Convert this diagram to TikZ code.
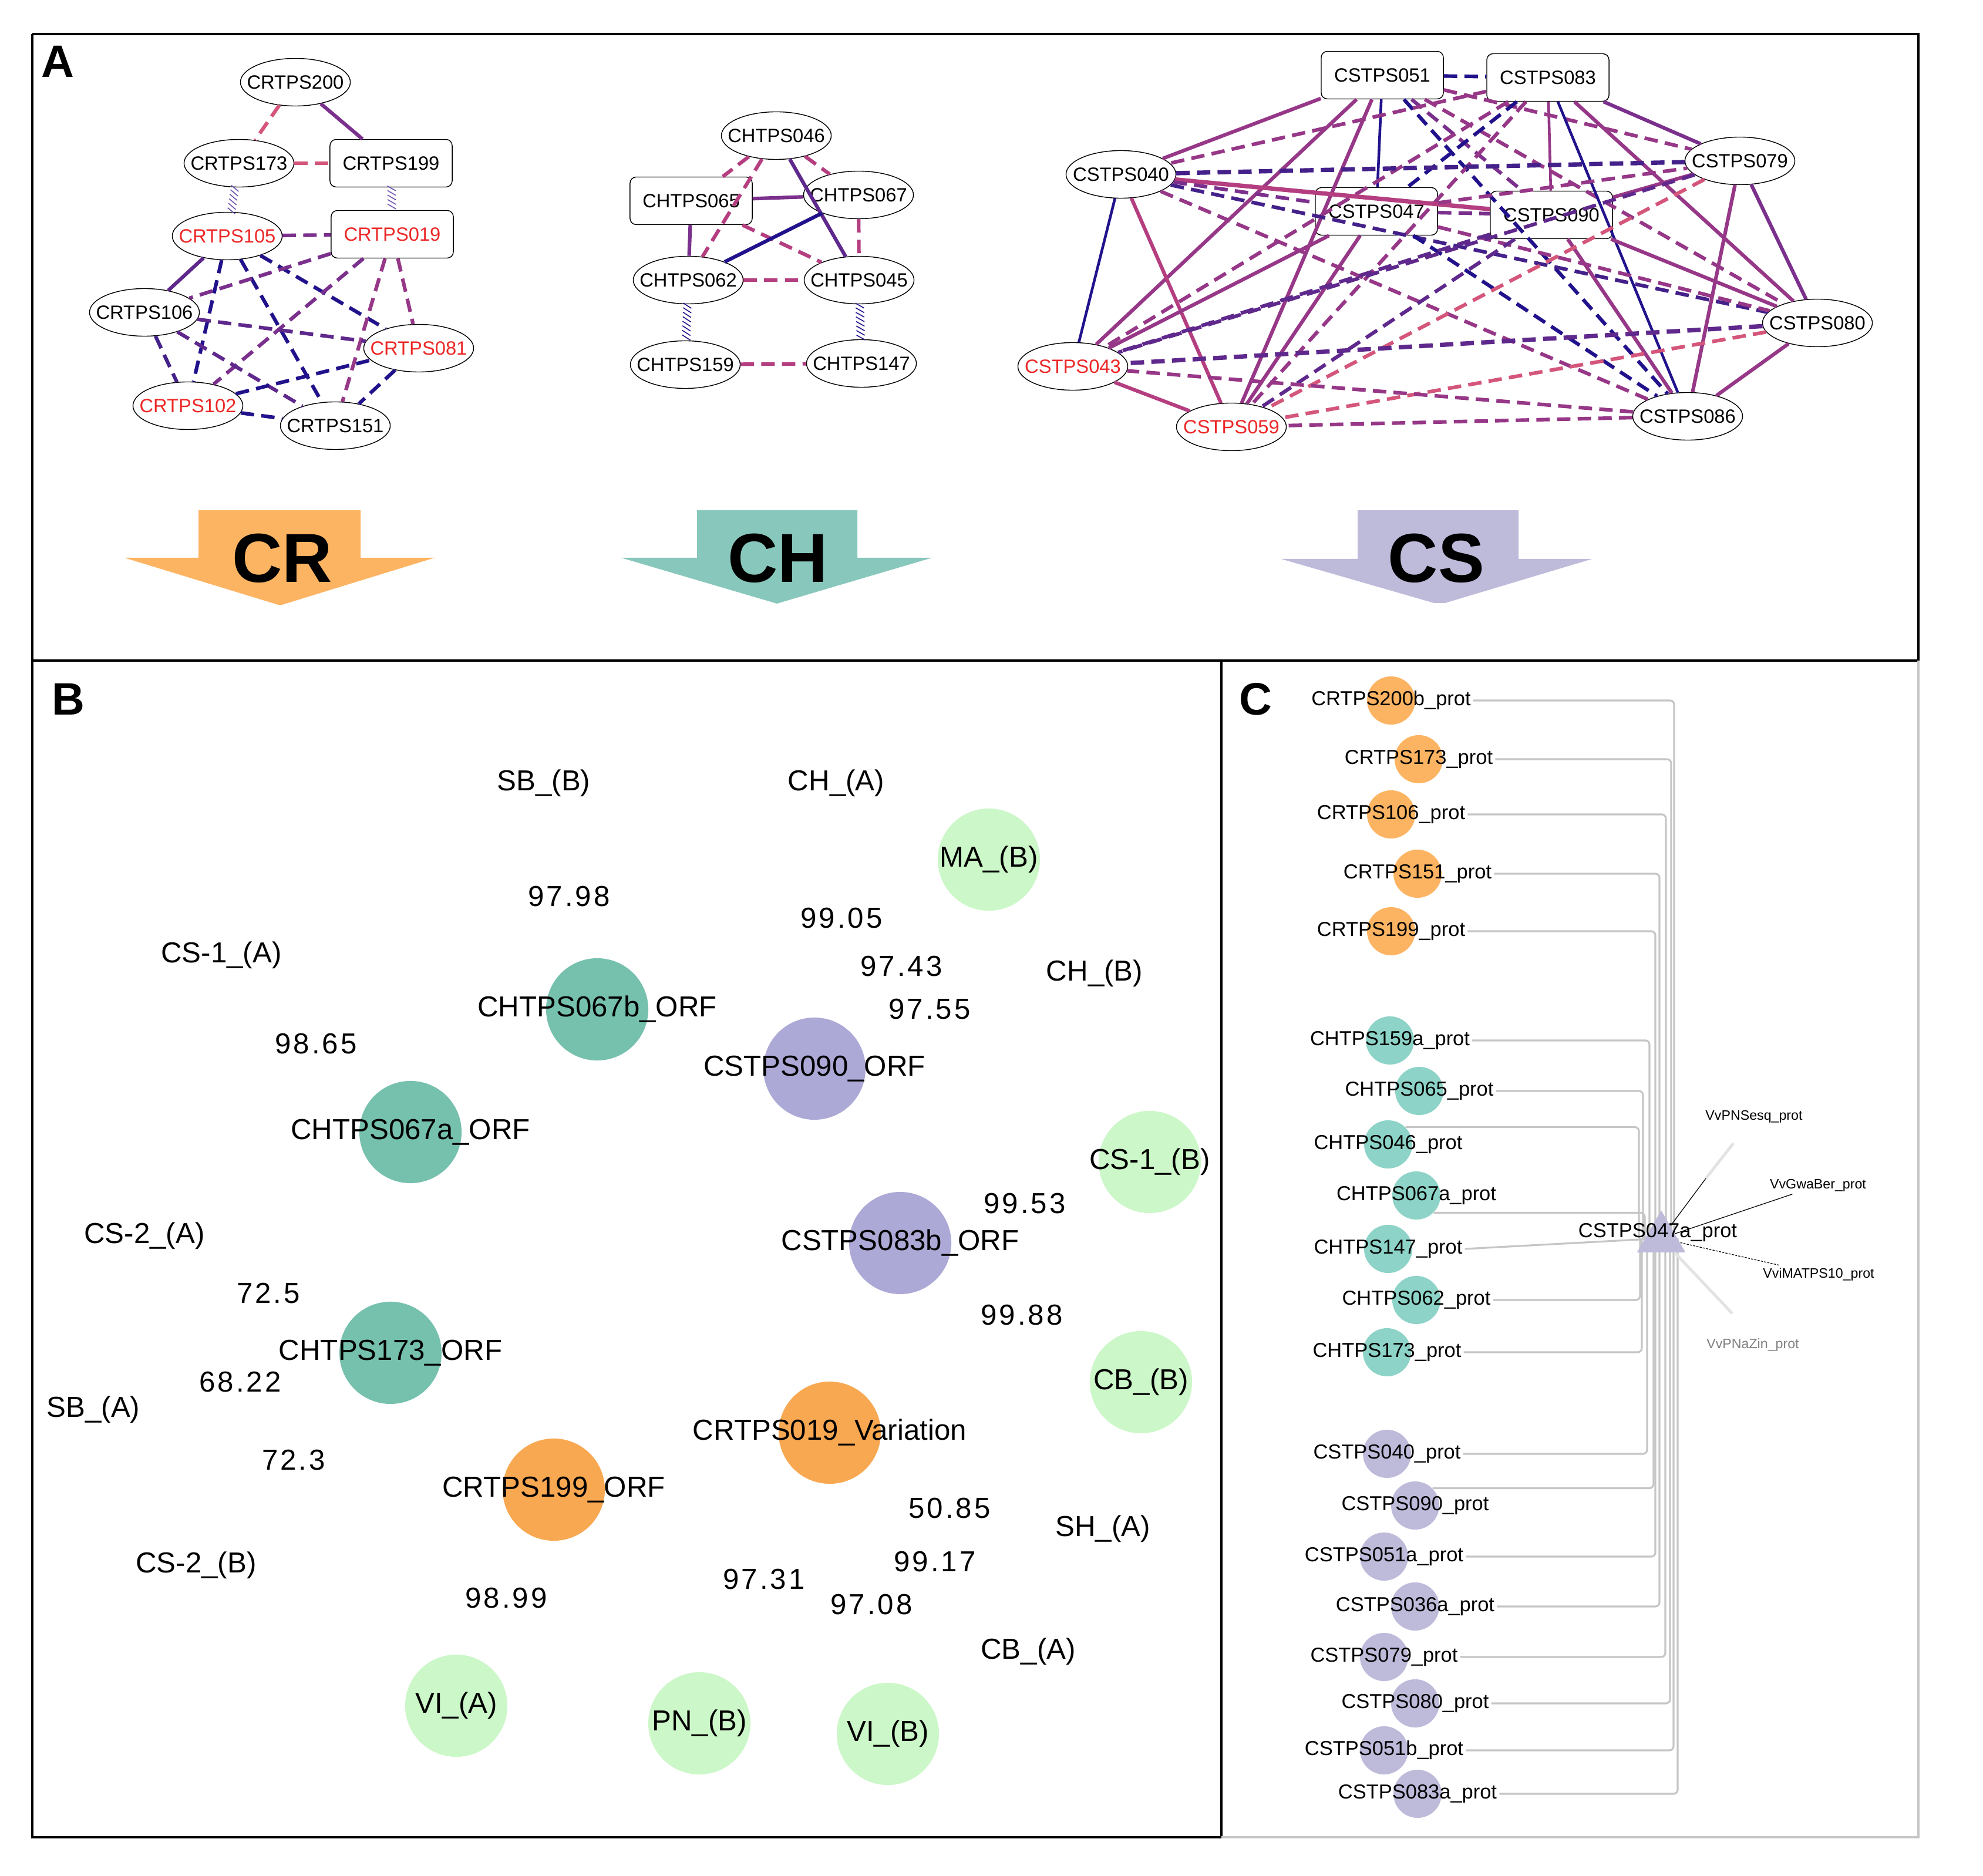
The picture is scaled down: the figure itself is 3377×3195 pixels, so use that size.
\documentclass[tikz,border=0pt]{standalone}
\usepackage{fontspec}
\setmainfont{Liberation Sans}
\newfontfamily\numfont[LetterSpace=8]{Liberation Sans}
\usetikzlibrary{positioning, shapes.geometric, decorations.markings, calc}

\definecolor{ecblue}{RGB}{33,18,140}
\definecolor{ecindigo}{RGB}{68,32,138}
\definecolor{ecpurple}{RGB}{95,40,140}
\definecolor{ecviolet}{RGB}{122,48,140}
\definecolor{ecmagenta}{RGB}{150,55,135}
\definecolor{ecrose}{RGB}{180,62,128}
\definecolor{ecpink}{RGB}{212,86,122}
\definecolor{eclav}{RGB}{110,85,175}
\definecolor{textred}{RGB}{236,40,40}
\definecolor{crorange}{RGB}{253,180,98}
\definecolor{charrow}{RGB}{136,199,188}
\definecolor{chteal}{RGB}{141,211,199}
\definecolor{cslav}{RGB}{190,186,218}
\definecolor{borange}{RGB}{249,168,82}
\definecolor{bteal}{RGB}{118,192,174}
\definecolor{blav}{RGB}{173,169,214}
\definecolor{bgreen}{RGB}{204,247,200}

\begin{document}
\begin{tikzpicture} [
    x=0.01cm, y=-0.01cm,
    netfont/.style={font=\fontsize{9.3}{11}\selectfont},
    ell/.style={ellipse, draw, thin, netfont, minimum width=1.87cm, minimum height=0.81cm, inner xsep=-8pt, inner ysep=0pt},
    box/.style={rectangle, rounded corners=3pt, draw, thin, netfont, minimum width=2.08cm, minimum height=0.81cm, inner sep=0pt},
    hot/.style={text=textred},
    sol/.style={draw=#1, line width=1.75pt},
    dsh/.style={draw=#1, line width=1.75pt, dash pattern=on 6.5pt off 3.5pt},
    hatchline/.style={decoration={markings, mark=between positions 0.04 and 0.96 step 2.2pt with {\draw[#1, line width=0.45pt] (-1.2pt,-2pt) -- (1.2pt,2pt);}}, decorate},
    frame/.style={line width=1.4pt},
    panel/.style={font=\fontsize{22}{24}\selectfont\bfseries, anchor=base west, inner sep=0pt},
    bigtext/.style={font=\fontsize{33.6}{36}\selectfont\bfseries},
    bcirc/.style={circle, minimum size=1.74cm, inner sep=0pt},
    btext/.style={font=\fontsize{14}{16}\selectfont},
    bnum/.style={font=\numfont\fontsize{14}{16}\selectfont},
    ccirc/.style={circle, minimum size=0.82cm, inner sep=0pt},
    ctext/.style={font=\fontsize{9.8}{11}\selectfont, inner sep=1pt},
    cbus/.style={draw=gray!45, line width=0.9pt, rounded corners=2pt},
    vvtext/.style={font=\fontsize{6.6}{8}\selectfont, inner sep=1pt},
    vvthin/.style={draw=black, line width=0.35pt},
    vvfade/.style={draw=gray!22, line width=1.4pt}
]

\useasboundingbox (0,0) rectangle (3377,3195);
\fill[white] (0,0) rectangle (3377,3195);

% frames
\draw[frame] (55,58) -- (3267,58) -- (3267,1125);
\draw[frame] (55,58) -- (55,3129) -- (2080,3129);
\draw[frame] (55,1125) -- (3267,1125);
\draw[frame] (2080,1125) -- (2080,3129);
\draw[line width=1pt, gray!45] (3267,1125) -- (3267,3129) -- (2080,3129);

\node[panel] (pA) at (70,132) {A};
\node[panel] (pB) at (88,1218) {B};
\node[panel] (pC) at (2110,1218) {C};

% CR network
\node[ell] (r200) at (503,140) {CRTPS200};
\node[ell] (r173) at (407,278) {CRTPS173};
\node[box] (r199) at (666,278) {CRTPS199};
\node[ell, hot] (r105) at (387,402) {CRTPS105};
\node[box, hot] (r019) at (668,399) {CRTPS019};
\node[ell] (r106) at (246,532) {CRTPS106};
\node[ell, hot] (r081) at (713,593) {CRTPS081};
\node[ell, hot] (r102) at (320,691) {CRTPS102};
\node[ell] (r151) at (571,725) {CRTPS151};

\path
    (r200) edge[dsh=ecpink] (r173)
    (r200) edge[sol=ecviolet] (r199)
    (r173) edge[dsh=ecpink] (r199)
    (r105) edge[dsh=ecviolet] (r019)
    (r105) edge[sol=ecpurple] (r106)
    (r105) edge[dsh=ecblue] (r102)
    (r105) edge[dsh=ecblue] (r151)
    (r105) edge[dsh=ecblue] (r081)
    (r019) edge[dsh=ecviolet] (r106)
    (r019) edge[dsh=ecviolet] (r102)
    (r019) edge[dsh=ecmagenta] (r151)
    (r019) edge[dsh=ecmagenta] (r081)
    (r106) edge[dsh=ecpurple] (r081)
    (r106) edge[dsh=ecindigo] (r102)
    (r106) edge[dsh=ecpurple] (r151)
    (r102) edge[dsh=ecblue] (r081)
    (r102) edge[dsh=ecblue] (r151)
    (r081) edge[dsh=ecblue] (r151);
\path[hatchline=eclav] (r173) -- (r105);
\path[hatchline=eclav] (r199) -- (r019);

% CH network
\node[ell] (h046) at (1322,231) {CHTPS046};
\node[box] (h065) at (1177,342) {CHTPS065};
\node[ell] (h067) at (1462,332) {CHTPS067};
\node[ell] (h062) at (1172,477) {CHTPS062};
\node[ell] (h045) at (1463,477) {CHTPS045};
\node[ell] (h159) at (1167,621) {CHTPS159};
\node[ell] (h147) at (1467,619) {CHTPS147};

\path
    (h046) edge[dsh=ecrose] (h065)
    (h046) edge[dsh=ecrose] (h062)
    (h046) edge[dsh=ecrose] (h067)
    (h046) edge[sol=ecpurple] (h045)
    (h065) edge[sol=ecviolet] (h067)
    (h065) edge[sol=ecviolet] (h062)
    (h065) edge[dsh=ecrose] (h045)
    (h067) edge[sol=ecblue] (h062)
    (h067) edge[dsh=ecrose] (h045)
    (h062) edge[dsh=ecrose] (h045)
    (h159) edge[dsh=ecrose] (h147);
\path[hatchline=ecblue] (h062) -- (h159);
\path[hatchline=ecblue] (h045) -- (h147);

% CS network
\node[box] (s051) at (2354,128) {CSTPS051};
\node[box] (s083) at (2636,132) {CSTPS083};
\node[ell] (s040) at (1909,297) {CSTPS040};
\node[ell] (s079) at (2963,274) {CSTPS079};
\node[box] (s047) at (2344,360) {CSTPS047};
\node[box] (s090) at (2642,366) {CSTPS090};
\node[ell] (s080) at (3095,550) {CSTPS080};
\node[ell, hot] (s043) at (1827,624) {CSTPS043};
\node[ell, hot] (s059) at (2097,727) {CSTPS059};
\node[ell] (s086) at (2874,709) {CSTPS086};

\path
    (s051) edge[dsh=ecblue] (s083)
    (s051) edge[sol=ecmagenta] (s040)
    (s051) edge[sol=ecblue, line width=1.3pt] (s047)
    (s051) edge[sol=ecmagenta] (s043)
    (s051) edge[sol=ecmagenta] (s059)
    (s051) edge[dsh=ecblue] (s086)
    (s051) edge[dsh=ecmagenta] (s080)
    (s051) edge[dsh=ecmagenta] (s079)
    (s051) edge[dsh=ecviolet] (s090)
    (s083) edge[dsh=ecmagenta] (s040)
    (s083) edge[sol=ecviolet] (s079)
    (s083) edge[sol=ecmagenta, line width=1.3pt] (s090)
    (s083) edge[sol=ecblue, line width=1.3pt] (s086)
    (s083) edge[sol=ecmagenta] (s080)
    (s083) edge[dsh=ecblue] (s047)
    (s083) edge[dsh=ecmagenta] (s059)
    (s083) edge[dsh=ecmagenta] (s043)
    (s040) edge[dsh=ecindigo, line width=2.1pt] (s079)
    (s040) edge[sol=ecrose, line width=2.1pt] (s090)
    (s040) edge[dsh=ecviolet] (s047)
    (s040) edge[dsh=ecindigo] (s080)
    (s040) edge[dsh=ecmagenta] (s086)
    (s040) edge[sol=ecblue, line width=1.3pt] (s043)
    (s040) edge[sol=ecrose] (s059)
    (s047) edge[sol=ecmagenta] (s043)
    (s047) edge[sol=ecmagenta] (s059)
    (s047) edge[dsh=ecblue] (s086)
    (s047) edge[dsh=ecmagenta] (s080)
    (s047) edge[dsh=ecviolet] (s090)
    (s047) edge[dsh=ecmagenta] (s079)
    (s090) edge[sol=ecmagenta] (s079)
    (s090) edge[sol=ecmagenta] (s080)
    (s090) edge[sol=ecmagenta] (s086)
    (s090) edge[dsh=ecpurple] (s043)
    (s090) edge[dsh=ecpurple] (s059)
    (s079) edge[sol=ecviolet] (s080)
    (s079) edge[sol=ecmagenta] (s086)
    (s079) edge[dsh=ecpurple] (s043)
    (s079) edge[dsh=ecpink] (s059)
    (s080) edge[dsh=ecpurple, line width=2.1pt] (s043)
    (s080) edge[dsh=ecpink] (s059)
    (s080) edge[sol=ecmagenta] (s086)
    (s086) edge[dsh=ecmagenta] (s043)
    (s086) edge[dsh=ecmagenta] (s059)
    (s043) edge[sol=ecrose] (s059);

% group arrows
\fill[crorange] (338,869) -- (614,869) -- (614,950) -- (740,950) -- (477,1031) -- (212,950) -- (338,950) -- cycle;
\node[bigtext] (aCR) at (481,951) {CR};
\fill[charrow] (1187,869) -- (1460,869) -- (1460,950) -- (1587,950) -- (1323,1028) -- (1058,950) -- (1187,950) -- cycle;
\node[bigtext] (aCH) at (1325,951) {CH};
\fill[cslav] (2312,869) -- (2586,869) -- (2586,952) -- (2711,952) -- (2461,1027) -- (2442,1027) -- (2182,952) -- (2312,952) -- cycle;
\node[bigtext] (aCS) at (2446,951) {CS};

% panel B
\node[bcirc, fill=bgreen, label={[btext]center:MA\_(B)}] (bMA) at (1684,1464) {};
\node[bcirc, fill=bteal, label={[btext]center:CHTPS067b\_ORF}] (b067b) at (1017,1719) {};
\node[bcirc, fill=blav, label={[btext]center:CSTPS090\_ORF}] (b090) at (1387,1820) {};
\node[bcirc, fill=bteal, label={[btext]center:CHTPS067a\_ORF}] (b067a) at (699,1928) {};
\node[bcirc, fill=bgreen, label={[btext]center:CS-1\_(B)}] (bCS1b) at (1958,1979) {};
\node[bcirc, fill=blav, label={[btext]center:CSTPS083b\_ORF}] (b083b) at (1533,2117) {};
\node[bcirc, fill=bteal, label={[btext]center:CHTPS173\_ORF}] (b173) at (665,2304) {};
\node[bcirc, fill=bgreen, label={[btext]center:CB\_(B)}] (bCBb) at (1943,2354) {};
\node[bcirc, fill=borange, label={[btext]center:CRTPS019\_Variation}] (b019) at (1413,2440) {};
\node[bcirc, fill=borange, label={[btext]center:CRTPS199\_ORF}] (b199) at (943,2537) {};
\node[bcirc, fill=bgreen, label={[btext]center:VI\_(A)}] (bVIa) at (777,2905) {};
\node[bcirc, fill=bgreen, label={[btext]center:PN\_(B)}] (bPNb) at (1191,2935) {};
\node[bcirc, fill=bgreen, label={[btext]center:VI\_(B)}] (bVIb) at (1512,2953) {};

\node[btext] (bSBb) at (926,1334) {SB\_(B)};
\node[btext] (bCHa) at (1424,1334) {CH\_(A)};
\node[btext] (bCS1a) at (377,1627) {CS-1\_(A)};
\node[btext] (bCHb) at (1864,1658) {CH\_(B)};
\node[btext] (bCS2a) at (246,2105) {CS-2\_(A)};
\node[btext] (bSBa) at (159,2401) {SB\_(A)};
\node[btext] (bSHa) at (1878,2604) {SH\_(A)};
\node[btext] (bCS2b) at (334,2666) {CS-2\_(B)};
\node[btext] (bCBa) at (1751,2813) {CB\_(A)};

\node[bnum] (n1) at (969,1527) {97.98};
\node[bnum] (n2) at (1433,1564) {99.05};
\node[bnum] (n3) at (1535,1646) {97.43};
\node[bnum] (n4) at (1583,1719) {97.55};
\node[bnum] (n5) at (538,1778) {98.65};
\node[bnum] (n6) at (1745,2050) {99.53};
\node[bnum] (n7) at (457,2203) {72.5};
\node[bnum] (n8) at (1740,2240) {99.88};
\node[bnum] (n9) at (409,2354) {68.22};
\node[bnum] (n10) at (500,2487) {72.3};
\node[bnum] (n11) at (1617,2569) {50.85};
\node[bnum] (n12) at (1592,2660) {99.17};
\node[bnum] (n13) at (1301,2690) {97.31};
\node[bnum] (n14) at (862,2722) {98.99};
\node[bnum] (n15) at (1484,2733) {97.08};

% panel C
\node[ccirc, fill=crorange, label={[ctext, name=lcr200]center:CRTPS200b\_prot}] (cr200) at (2369,1193) {};
\node[ccirc, fill=crorange, label={[ctext, name=lcr173]center:CRTPS173\_prot}] (cr173) at (2416,1293) {};
\node[ccirc, fill=crorange, label={[ctext, name=lcr106]center:CRTPS106\_prot}] (cr106) at (2369,1387) {};
\node[ccirc, fill=crorange, label={[ctext, name=lcr151]center:CRTPS151\_prot}] (cr151) at (2414,1488) {};
\node[ccirc, fill=crorange, label={[ctext, name=lcr199]center:CRTPS199\_prot}] (cr199) at (2369,1586) {};
\node[ccirc, fill=chteal, label={[ctext, name=lch159]center:CHTPS159a\_prot}] (ch159) at (2367,1772) {};
\node[ccirc, fill=chteal, label={[ctext, name=lch065]center:CHTPS065\_prot}] (ch065) at (2417,1858) {};
\node[ccirc, fill=chteal, label={[ctext, name=lch046]center:CHTPS046\_prot}] (ch046) at (2364,1949) {};
\node[ccirc, fill=chteal, label={[ctext, name=lch067]center:CHTPS067a\_prot}] (ch067) at (2412,2036) {};
\node[ccirc, fill=chteal, label={[ctext, name=lch147]center:CHTPS147\_prot}] (ch147) at (2364,2127) {};
\node[ccirc, fill=chteal, label={[ctext, name=lch062]center:CHTPS062\_prot}] (ch062) at (2412,2214) {};
\node[ccirc, fill=chteal, label={[ctext, name=lch173]center:CHTPS173\_prot}] (ch173) at (2362,2303) {};
\node[ccirc, fill=cslav, label={[ctext, name=lcs040]center:CSTPS040\_prot}] (cs040) at (2362,2476) {};
\node[ccirc, fill=cslav, label={[ctext, name=lcs090]center:CSTPS090\_prot}] (cs090) at (2410,2564) {};
\node[ccirc, fill=cslav, label={[ctext, name=lcs051a]center:CSTPS051a\_prot}] (cs051a) at (2357,2651) {};
\node[ccirc, fill=cslav, label={[ctext, name=lcs036]center:CSTPS036a\_prot}] (cs036) at (2410,2736) {};
\node[ccirc, fill=cslav, label={[ctext, name=lcs079]center:CSTPS079\_prot}] (cs079) at (2357,2822) {};
\node[ccirc, fill=cslav, label={[ctext, name=lcs080]center:CSTPS080\_prot}] (cs080) at (2410,2901) {};
\node[ccirc, fill=cslav, label={[ctext, name=lcs051b]center:CSTPS051b\_prot}] (cs051b) at (2357,2981) {};
\node[ccirc, fill=cslav, label={[ctext, name=lcs083]center:CSTPS083a\_prot}] (cs083) at (2414,3055) {};

\coordinate (t047c) at (2829,2109);
\draw[cbus] (lcr200.east) -| ($(t047c)+(22,0)$);
\draw[cbus] (lcr173.east) -| ($(t047c)+(17,0)$);
\draw[cbus] (lcr106.east) -| ($(t047c)+(8,0)$);
\draw[cbus] (lcr151.east) -| ($(t047c)+(-3,0)$);
\draw[cbus] (lcr199.east) -| ($(t047c)+(-10,0)$);
\draw[cbus] (lch159.east) -| ($(t047c)+(-20,0)$);
\draw[cbus] (lch065.east) -| ($(t047c)+(-31,0)$);
\draw[cbus] (ch046.north east) -| ($(t047c)+(-38,0)$);
\draw[cbus] (ch067.south east) -| ($(t047c)+(-28,0)$);
\draw[cbus] (lch147.east) -- (t047c);
\draw[cbus] (lch062.east) -| ($(t047c)+(-36,0)$);
\draw[cbus] (lch173.east) -| ($(t047c)+(-33,0)$);
\draw[cbus] (lcs040.east) -| ($(t047c)+(-24,0)$);
\draw[cbus] (cs090.north east) -| ($(t047c)+(-13,0)$);
\draw[cbus] (lcs051a.east) -| ($(t047c)+(-10,0)$);
\draw[cbus] (lcs036.east) -| ($(t047c)+(-3,0)$);
\draw[cbus] (lcs079.east) -| ($(t047c)+(7,0)$);
\draw[cbus] (lcs080.east) -| ($(t047c)+(15,0)$);
\draw[cbus] (lcs051b.east) -| ($(t047c)+(21,0)$);
\draw[cbus] (lcs083.east) -| ($(t047c)+(28,0)$);

\node[regular polygon, regular polygon sides=3, minimum size=0.95cm, inner sep=0pt, fill=cslav,
      label={[ctext, name=lcs047, yshift=0.1cm, xshift=-0.06cm]center:CSTPS047a\_prot}] (t047a) at (t047c) {};

\node[vvtext] (vSesq) at (2987,1902) {VvPNSesq\_prot};
\node[vvtext] (vGwa) at (3096,2019) {VvGwaBer\_prot};
\node[vvtext] (vMat) at (3097,2170) {VviMATPS10\_prot};
\node[vvtext, text=gray] (vZin) at (2985,2290) {VvPNaZin\_prot};

\coordinate (kSesq) at (2905,2007);
\coordinate (eSesq) at (2952,1947);
\coordinate (eZin) at (2950,2237);
\draw[vvthin] (t047a) -- (kSesq);
\draw[vvfade] (kSesq) -- (eSesq);
\draw[vvthin] (t047a) -- (vGwa);
\draw[vvthin, dash pattern=on 1pt off 0.6pt] (t047a) -- (vMat);
\draw[vvfade] (t047a) -- (eZin);

\end{tikzpicture}
\end{document}
